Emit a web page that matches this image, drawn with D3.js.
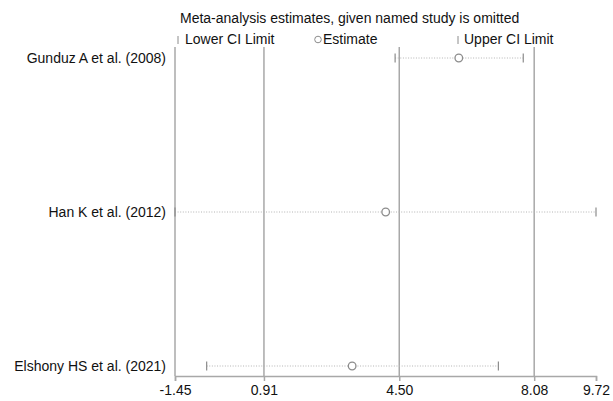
<!DOCTYPE html>
<html>
<head>
<meta charset="utf-8">
<script src="https://cdn.jsdelivr.net/npm/d3@7"></script>
<style>
html,body{margin:0;padding:0;background:#fff;}
svg{display:block;font-family:"Liberation Sans",Arial,sans-serif;}
</style>
</head>
<body>
<svg id="chart" width="613" height="401"></svg>
<script>
const studies = ["Gunduz A et al. (2008)", "Han K et al. (2012)", "Elshony HS et al. (2021)"];
const estimates = [6.08, 4.14, 3.25];
const lowerCI = [4.39, -1.45, -0.61];
const upperCI = [7.79, 9.72, 7.13];
const xTicks = [-1.45, 0.91, 4.50, 8.08, 9.72];
const refLines = [-1.45, 0.91, 4.50, 8.08];
const title = "Meta-analysis estimates, given named study is omitted";
const legendLabels = ["Lower CI Limit", "Estimate", "Upper CI Limit"];

const svg = d3.select("#chart");
const plotTop = 47, plotBottom = 376;
const x = d3.scaleLinear().domain([xTicks[0], xTicks[xTicks.length-1]]).range([175, 596]);
const y = d3.scalePoint().domain(studies).range([58, 366]);

const gridCol = "#a8a8a8";
const markCol = "#8c8c8c";
const textCol = "#111";
const fs = "14px";

// reference vertical lines
svg.append("g").selectAll("line").data(refLines).join("line")
  .attr("x1", d => x(d)).attr("x2", d => x(d))
  .attr("y1", plotTop).attr("y2", plotBottom)
  .attr("stroke", gridCol).attr("stroke-width", 1.5);

// x axis
const xAxis = d3.axisBottom(x).tickValues(xTicks)
  .tickFormat(d => d3.format(".2f")(d).replace("\u2212", "-"))
  .tickSizeOuter(0).tickSize(5).tickPadding(4);
const gx = svg.append("g").attr("transform", `translate(0,${plotBottom})`).call(xAxis);
gx.select(".domain").attr("stroke", gridCol).attr("stroke-width", 1.5);
gx.selectAll(".tick line").attr("stroke", gridCol).attr("stroke-width", 1.5);
gx.selectAll(".tick text").attr("fill", textCol).style("font-size", fs).style("font-family", '"Liberation Sans",Arial,sans-serif');

// study labels
svg.append("g").selectAll("text").data(studies).join("text")
  .attr("x", 166).attr("y", d => y(d)).attr("dy", "0.35em")
  .attr("text-anchor", "end").attr("fill", textCol).style("font-size", fs)
  .text(d => d);

const rows = studies.map((s, i) => ({s, est: estimates[i], lo: lowerCI[i], hi: upperCI[i]}));

// CI dotted lines
svg.append("g").selectAll("line").data(rows).join("line")
  .attr("x1", d => x(d.lo)).attr("x2", d => x(d.hi))
  .attr("y1", d => y(d.s)).attr("y2", d => y(d.s))
  .attr("stroke", "#b4b4b4").attr("stroke-width", 1).attr("stroke-dasharray", "1,1.6");

// caps
const caps = rows.flatMap(d => [{s: d.s, v: d.lo}, {s: d.s, v: d.hi}]);
svg.append("g").selectAll("line").data(caps).join("line")
  .attr("x1", d => x(d.v)).attr("x2", d => x(d.v))
  .attr("y1", d => y(d.s) - 4.5).attr("y2", d => y(d.s) + 4.5)
  .attr("stroke", markCol).attr("stroke-width", 1.2);

// estimates
svg.append("g").selectAll("circle").data(rows).join("circle")
  .attr("cx", d => x(d.est)).attr("cy", d => y(d.s)).attr("r", 3.8)
  .attr("fill", "#fff").attr("stroke", markCol).attr("stroke-width", 1.3);

// title
svg.append("text").attr("x", 180).attr("y", 23).attr("fill", textCol)
  .style("font-size", fs).text(title);

// legend
const legY = 44;
const lg = svg.append("g");
// Lower
lg.append("line").attr("x1", 178).attr("x2", 178).attr("y1", legY - 8).attr("y2", legY).attr("stroke", markCol).attr("stroke-width", 1);
lg.append("text").attr("x", 185).attr("y", legY).attr("fill", textCol).style("font-size", fs).text(legendLabels[0]);
// Estimate
lg.append("circle").attr("cx", 318).attr("cy", legY - 4.5).attr("r", 3.3).attr("fill", "#fff").attr("stroke", markCol).attr("stroke-width", 1);
lg.append("text").attr("x", 323).attr("y", legY).attr("fill", textCol).style("font-size", fs).text(legendLabels[1]);
// Upper
lg.append("line").attr("x1", 458).attr("x2", 458).attr("y1", legY - 8).attr("y2", legY).attr("stroke", markCol).attr("stroke-width", 1);
lg.append("text").attr("x", 464).attr("y", legY).attr("fill", textCol).style("font-size", fs).text(legendLabels[2]);
</script>
</body>
</html>
